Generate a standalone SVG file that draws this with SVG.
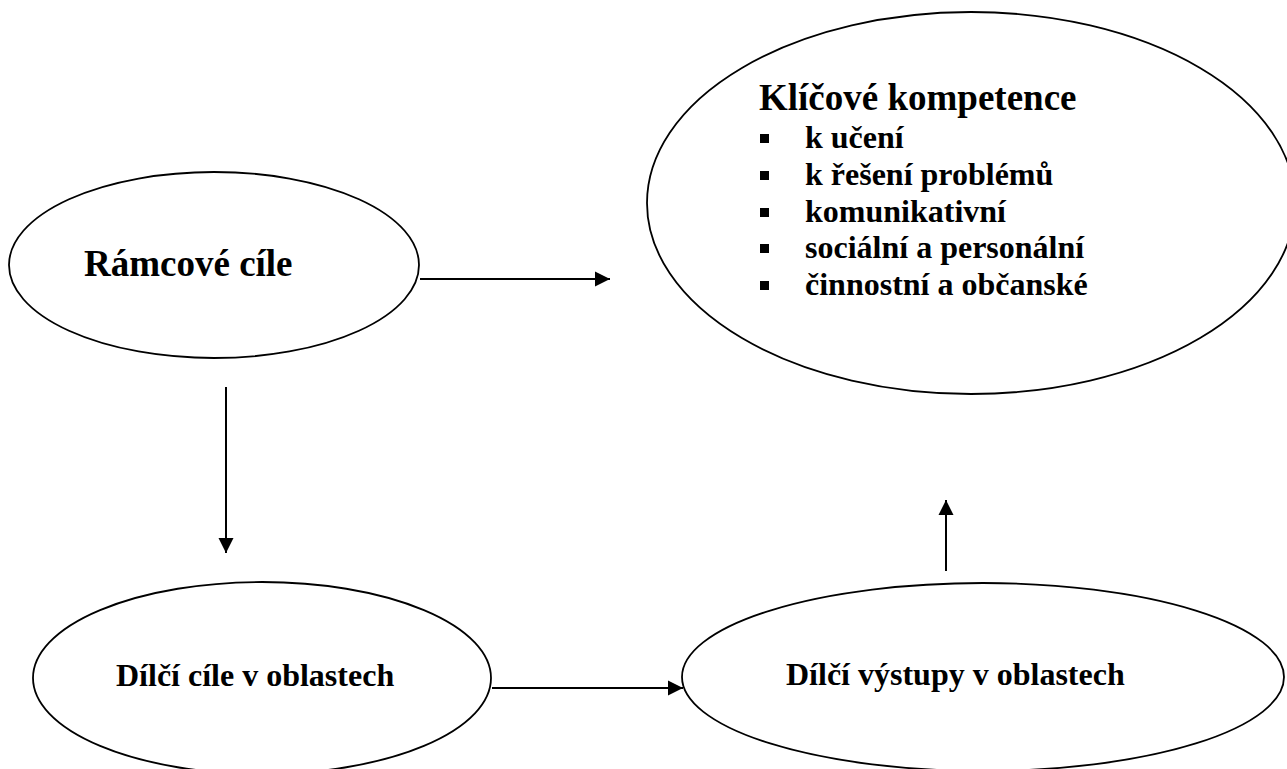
<svg xmlns="http://www.w3.org/2000/svg" width="1287" height="769" viewBox="0 0 1287 769">
<style>
.node{fill:#fff;stroke:#000;stroke-width:1.8}
.t{font-family:"Liberation Serif","Times New Roman",serif;font-weight:bold;fill:#000}
.big{font-size:37px}
.small{font-size:32px}
.conn{stroke:#000;stroke-width:2;fill:none}
</style>
<defs>
<marker id="ah" markerWidth="16" markerHeight="16" refX="15" refY="8" orient="auto" markerUnits="userSpaceOnUse">
<path d="M0,0.5 L15,8 L0,15.5 Z" fill="#000"/>
</marker>
</defs>
<rect width="1287" height="769" fill="#fff"/>
<g id="klicove-kompetence">
<ellipse class="node" cx="971" cy="203" rx="324" ry="191"/>
<text class="t big" x="759" y="110">Klíčové kompetence</text>
<g class="t small">
<rect x="760" y="134" width="9" height="9"/>
<text x="805" y="148">k učení</text>
<rect x="760" y="171" width="9" height="9"/>
<text x="805" y="185">k řešení problémů</text>
<rect x="760" y="208" width="9" height="9"/>
<text x="805" y="222">komunikativní</text>
<rect x="760" y="244" width="9" height="9"/>
<text x="805" y="258">sociální a personální</text>
<rect x="760" y="281" width="9" height="9"/>
<text x="805" y="295">činnostní a občanské</text>
</g>
</g>
<g id="ramcove-cile">
<ellipse class="node" cx="214" cy="265" rx="205" ry="93"/>
<text class="t big" x="84" y="276">Rámcové cíle</text>
</g>
<g id="dilci-cile">
<ellipse class="node" cx="262" cy="678" rx="229" ry="96"/>
<text class="t small" x="116" y="686">Dílčí cíle v oblastech</text>
</g>
<g id="dilci-vystupy">
<ellipse class="node" cx="983" cy="677" rx="301" ry="94"/>
<text class="t small" x="786" y="685">Dílčí výstupy v oblastech</text>
</g>
<g id="connectors">
<line class="conn" x1="420" y1="279" x2="610" y2="279" marker-end="url(#ah)"/>
<line class="conn" x1="226" y1="387" x2="226" y2="553" marker-end="url(#ah)"/>
<line class="conn" x1="492" y1="688" x2="683" y2="688" marker-end="url(#ah)"/>
<line class="conn" x1="946" y1="571" x2="946" y2="500" marker-end="url(#ah)"/>
</g>
</svg>
